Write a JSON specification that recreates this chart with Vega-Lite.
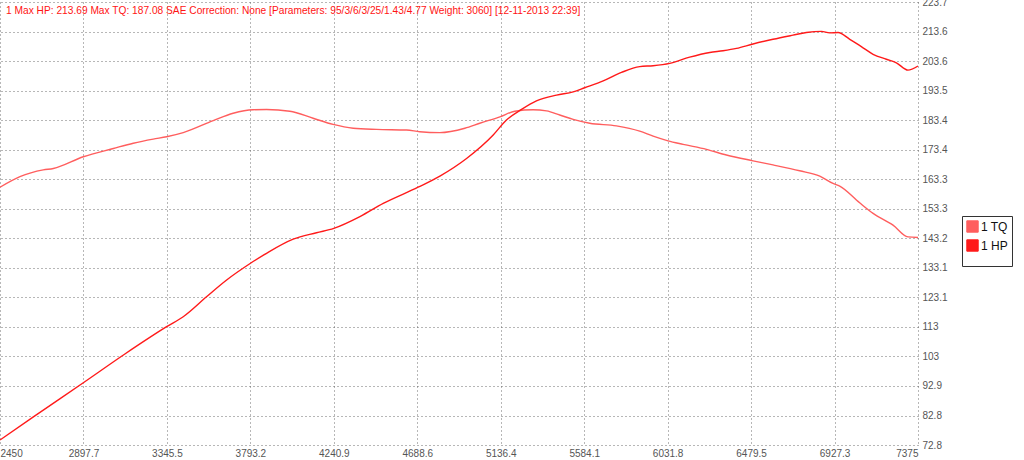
{
  "$schema": "https://vega.github.io/schema/vega-lite/v6.json",
  "width": 918,
  "height": 443,
  "autosize": {"type": "none"},
  "padding": {"left": 0, "top": 2, "right": 106, "bottom": 15},
  "background": "white",
  "title": {
    "text": "1 Max HP: 213.69 Max TQ: 187.08 SAE Correction: None [Parameters: 95/3/6/3/25/1.43/4.77 Weight: 3060] [12-11-2013 22:39]",
    "anchor": "start",
    "frame": "group",
    "orient": "top",
    "offset": -19,
    "dx": 6,
    "font": "Liberation Sans",
    "fontSize": 10.2,
    "fontWeight": "normal",
    "color": "#ff1414"
  },
  "data": {
    "values": [
      {"rpm": 2450, "series": "1 TQ", "value": 160.6},
      {"rpm": 2557, "series": "1 TQ", "value": 164.2},
      {"rpm": 2682, "series": "1 TQ", "value": 166.5},
      {"rpm": 2736, "series": "1 TQ", "value": 167.0},
      {"rpm": 2897, "series": "1 TQ", "value": 171.0},
      {"rpm": 3058, "series": "1 TQ", "value": 173.8},
      {"rpm": 3165, "series": "1 TQ", "value": 175.6},
      {"rpm": 3272, "series": "1 TQ", "value": 177.0},
      {"rpm": 3344, "series": "1 TQ", "value": 177.8},
      {"rpm": 3433, "series": "1 TQ", "value": 179.2},
      {"rpm": 3594, "series": "1 TQ", "value": 183.3},
      {"rpm": 3701, "series": "1 TQ", "value": 185.8},
      {"rpm": 3808, "series": "1 TQ", "value": 187.0},
      {"rpm": 3880, "series": "1 TQ", "value": 187.08},
      {"rpm": 4005, "series": "1 TQ", "value": 186.5},
      {"rpm": 4130, "series": "1 TQ", "value": 184.1},
      {"rpm": 4237, "series": "1 TQ", "value": 182.0},
      {"rpm": 4345, "series": "1 TQ", "value": 180.7},
      {"rpm": 4470, "series": "1 TQ", "value": 180.3},
      {"rpm": 4631, "series": "1 TQ", "value": 180.1},
      {"rpm": 4702, "series": "1 TQ", "value": 179.5},
      {"rpm": 4810, "series": "1 TQ", "value": 179.2},
      {"rpm": 4944, "series": "1 TQ", "value": 180.7},
      {"rpm": 5024, "series": "1 TQ", "value": 182.4},
      {"rpm": 5132, "series": "1 TQ", "value": 184.6},
      {"rpm": 5212, "series": "1 TQ", "value": 186.5},
      {"rpm": 5310, "series": "1 TQ", "value": 187.0},
      {"rpm": 5382, "series": "1 TQ", "value": 186.6},
      {"rpm": 5453, "series": "1 TQ", "value": 185.2},
      {"rpm": 5525, "series": "1 TQ", "value": 183.7},
      {"rpm": 5614, "series": "1 TQ", "value": 182.4},
      {"rpm": 5757, "series": "1 TQ", "value": 181.5},
      {"rpm": 5882, "series": "1 TQ", "value": 179.7},
      {"rpm": 5954, "series": "1 TQ", "value": 178.0},
      {"rpm": 6034, "series": "1 TQ", "value": 176.4},
      {"rpm": 6115, "series": "1 TQ", "value": 175.2},
      {"rpm": 6240, "series": "1 TQ", "value": 173.5},
      {"rpm": 6347, "series": "1 TQ", "value": 171.6},
      {"rpm": 6490, "series": "1 TQ", "value": 169.6},
      {"rpm": 6597, "series": "1 TQ", "value": 168.2},
      {"rpm": 6740, "series": "1 TQ", "value": 166.2},
      {"rpm": 6848, "series": "1 TQ", "value": 164.4},
      {"rpm": 6919, "series": "1 TQ", "value": 161.9},
      {"rpm": 6955, "series": "1 TQ", "value": 161.0},
      {"rpm": 7062, "series": "1 TQ", "value": 155.3},
      {"rpm": 7134, "series": "1 TQ", "value": 151.7},
      {"rpm": 7241, "series": "1 TQ", "value": 147.7},
      {"rpm": 7321, "series": "1 TQ", "value": 143.7},
      {"rpm": 7375, "series": "1 TQ", "value": 143.5},
      {"rpm": 2450, "series": "1 HP", "value": 74.5},
      {"rpm": 2629, "series": "1 HP", "value": 82.4},
      {"rpm": 2897, "series": "1 HP", "value": 94.0},
      {"rpm": 3120, "series": "1 HP", "value": 103.8},
      {"rpm": 3344, "series": "1 HP", "value": 113.1},
      {"rpm": 3433, "series": "1 HP", "value": 116.5},
      {"rpm": 3558, "series": "1 HP", "value": 123.3},
      {"rpm": 3666, "series": "1 HP", "value": 129.0},
      {"rpm": 3794, "series": "1 HP", "value": 134.7},
      {"rpm": 3880, "series": "1 HP", "value": 138.1},
      {"rpm": 4023, "series": "1 HP", "value": 142.9},
      {"rpm": 4148, "series": "1 HP", "value": 145.1},
      {"rpm": 4241, "series": "1 HP", "value": 146.6},
      {"rpm": 4381, "series": "1 HP", "value": 150.6},
      {"rpm": 4506, "series": "1 HP", "value": 155.1},
      {"rpm": 4693, "series": "1 HP", "value": 160.6},
      {"rpm": 4810, "series": "1 HP", "value": 164.4},
      {"rpm": 4953, "series": "1 HP", "value": 170.4},
      {"rpm": 5096, "series": "1 HP", "value": 178.4},
      {"rpm": 5167, "series": "1 HP", "value": 183.5},
      {"rpm": 5248, "series": "1 HP", "value": 187.1},
      {"rpm": 5328, "series": "1 HP", "value": 190.0},
      {"rpm": 5436, "series": "1 HP", "value": 192.0},
      {"rpm": 5525, "series": "1 HP", "value": 193.1},
      {"rpm": 5587, "series": "1 HP", "value": 194.5},
      {"rpm": 5686, "series": "1 HP", "value": 196.8},
      {"rpm": 5784, "series": "1 HP", "value": 199.7},
      {"rpm": 5882, "series": "1 HP", "value": 201.7},
      {"rpm": 5954, "series": "1 HP", "value": 202.0},
      {"rpm": 6043, "series": "1 HP", "value": 202.8},
      {"rpm": 6150, "series": "1 HP", "value": 204.9},
      {"rpm": 6258, "series": "1 HP", "value": 206.5},
      {"rpm": 6329, "series": "1 HP", "value": 207.1},
      {"rpm": 6401, "series": "1 HP", "value": 207.9},
      {"rpm": 6490, "series": "1 HP", "value": 209.4},
      {"rpm": 6597, "series": "1 HP", "value": 211.0},
      {"rpm": 6704, "series": "1 HP", "value": 212.4},
      {"rpm": 6776, "series": "1 HP", "value": 213.3},
      {"rpm": 6857, "series": "1 HP", "value": 213.69},
      {"rpm": 6901, "series": "1 HP", "value": 213.2},
      {"rpm": 6946, "series": "1 HP", "value": 213.3},
      {"rpm": 7009, "series": "1 HP", "value": 211.0},
      {"rpm": 7071, "series": "1 HP", "value": 208.5},
      {"rpm": 7134, "series": "1 HP", "value": 205.9},
      {"rpm": 7205, "series": "1 HP", "value": 204.2},
      {"rpm": 7259, "series": "1 HP", "value": 203.0},
      {"rpm": 7321, "series": "1 HP", "value": 200.5},
      {"rpm": 7375, "series": "1 HP", "value": 201.9}
    ]
  },
  "mark": {"type": "line", "strokeWidth": 1.4, "clip": true, "interpolate": "monotone"},
  "encoding": {
    "x": {
      "field": "rpm",
      "type": "quantitative",
      "scale": {"domain": [2450, 7375], "nice": false, "zero": false},
      "axis": {
        "title": null,
        "values": [2450, 2897.7, 3345.5, 3793.2, 4240.9, 4688.6, 5136.4, 5584.1, 6031.8, 6479.5, 6927.3, 7375],
        "labelExpr": "'' + datum.value",
        "labelFlush": true,
        "labelOverlap": false,
        "labelPadding": 3,
        "domain": false,
        "ticks": false,
        "grid": true
      }
    },
    "y": {
      "field": "value",
      "type": "quantitative",
      "scale": {"domain": [72.8, 223.7], "nice": false, "zero": false},
      "axis": {
        "title": null,
        "orient": "right",
        "values": [72.8, 82.8, 92.9, 103, 113, 123.1, 133.1, 143.2, 153.3, 163.3, 173.4, 183.4, 193.5, 203.6, 213.6, 223.7],
        "labelExpr": "'' + datum.value",
        "labelFlush": false,
        "labelOverlap": false,
        "labelPadding": 4,
        "domain": false,
        "ticks": false,
        "grid": true
      }
    },
    "color": {
      "field": "series",
      "type": "nominal",
      "scale": {"domain": ["1 TQ", "1 HP"], "range": ["#ff5e5e", "#ff1a1a"]},
      "legend": {
        "orient": "none",
        "legendX": 962,
        "legendY": 214,
        "title": " ",
        "titleOrient": "bottom",
        "titleFontSize": 9,
        "titlePadding": 0,
        "symbolType": "square",
        "symbolSize": 130,
        "symbolStrokeColor": "#222",
        "symbolStrokeWidth": 1,
        "labelFontSize": 12,
        "labelColor": "#111",
        "labelOffset": 2,
        "strokeColor": "#333",
        "fillColor": "white",
        "padding": 4,
        "rowPadding": 2,
        "encode": {
          "symbols": {
            "update": {
              "fill": {"scale": "color", "field": "value"},
              "stroke": {"value": "#222"},
              "opacity": {"value": 1}
            }
          }
        }
      }
    }
  },
  "config": {
    "view": {"stroke": null},
    "font": "Liberation Sans",
    "axis": {
      "labelFont": "Liberation Sans",
      "labelFontSize": 10,
      "labelColor": "#555",
      "gridColor": "#555",
      "gridDash": [1, 3],
      "gridWidth": 1,
      "gridOpacity": 0.85
    },
    "legend": {"labelFont": "Liberation Sans"}
  }
}
